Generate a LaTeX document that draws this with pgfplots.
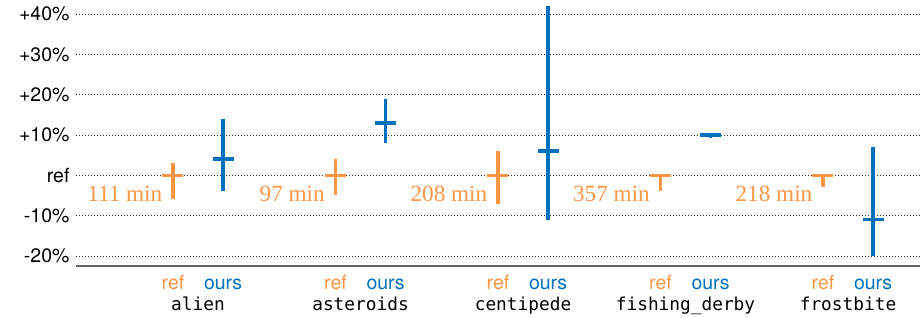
\documentclass[border=0pt]{standalone}
\usepackage{fontspec}
\setmainfont{TeX Gyre Heros}
\setmonofont{DejaVu Sans Mono}
\newfontfamily\serifnum{Liberation Serif}
\usepackage{pgfplots}
\pgfplotsset{compat=1.18}
\definecolor{cref}{RGB}{250,150,70}
\definecolor{cours}{RGB}{0,114,189}

\begin{document}
\begin{tikzpicture}
\begin{axis}[
 scale only axis, width=844pt, height=266pt,
 xmin=-0.7508, xmax=4.443, ymin=-22.49, ymax=43.47,
 clip=false,
 axis x line*=bottom, axis y line*=left,
 y axis line style={draw=none},
 x axis line style={draw=black!60, line width=1.2pt},
 ytick={-20,-10,0,10,20,30,40},
 yticklabels={-20\%,-10\%,ref,+10\%,+20\%,+30\%,+40\%},
 ymajorgrids,
 grid style={black!80, line width=0.7pt, dash pattern=on 0.8pt off 2.2pt},
 major tick length=0pt,
 yticklabel style={font=\fontsize{19.5}{20}\selectfont, xshift=-3pt},
 xtick={-0.154,0.154,0.846,1.154,1.846,2.154,2.846,3.154,3.846,4.154},
 xticklabels={\textcolor{cref}{ref},\textcolor{cours}{ours},\textcolor{cref}{ref},\textcolor{cours}{ours},\textcolor{cref}{ref},\textcolor{cours}{ours},\textcolor{cref}{ref},\textcolor{cours}{ours},\textcolor{cref}{ref},\textcolor{cours}{ours}},
 xticklabel style={font=\fontsize{19.5}{20}\selectfont, anchor=base, yshift=-24pt},
 extra x ticks={0,1,2,3,4},
 extra x tick labels={alien,asteroids,centipede,fishing\_derby,frostbite},
 extra x tick style={xticklabel style={font=\fontsize{17.8}{18}\selectfont\ttfamily, yshift=-20.7pt}},
 /pgf/number format/assume math mode=true,
]
\addplot[cref, only marks, mark=-, mark size=10.5pt, mark options={line width=3.4pt},
  error bars/.cd, y dir=both, y explicit, error mark=none,
  error bar style={line width=3.4pt, cref}] coordinates {
(-0.154,0) += (0,3) -= (0,6)
(0.846,0) += (0,4) -= (0,5)
(1.846,0) += (0,6) -= (0,7)
(2.846,0) += (0,0) -= (0,4)
(3.846,0) += (0,0) -= (0,3)
};
\addplot[cours, only marks, mark=-, mark size=10.5pt, mark options={line width=3.4pt},
  error bars/.cd, y dir=both, y explicit, error mark=none,
  error bar style={line width=3.4pt, cours}] coordinates {
(0.154,4) += (0,10) -= (0,8)
(1.154,13) += (0,5.9) -= (0,4.9)
(2.154,6) += (0,36) -= (0,17)
(3.154,10) += (0,0) -= (0,0.8)
(4.154,-11) += (0,18) -= (0,9)
};
\tikzset{minlab/.style={anchor=base east, inner sep=0pt, text=cref, font=\serifnum\fontsize{23.2}{24}\selectfont, xshift=-10.5pt, yshift=-26pt}}
\node[minlab] at (axis cs:-0.154,0) {111 min};
\node[minlab] at (axis cs:0.846,0) {97 min};
\node[minlab] at (axis cs:1.846,0) {208 min};
\node[minlab] at (axis cs:2.846,0) {357 min};
\node[minlab] at (axis cs:3.846,0) {218 min};
\coordinate (ll) at (rel axis cs:0,0);
\coordinate (ur) at (rel axis cs:1,1);
\end{axis}
\pgfresetboundingbox
\path[use as bounding box] ([xshift=-76pt,yshift=-52pt]ll) rectangle (ur);
\end{tikzpicture}
\end{document}
